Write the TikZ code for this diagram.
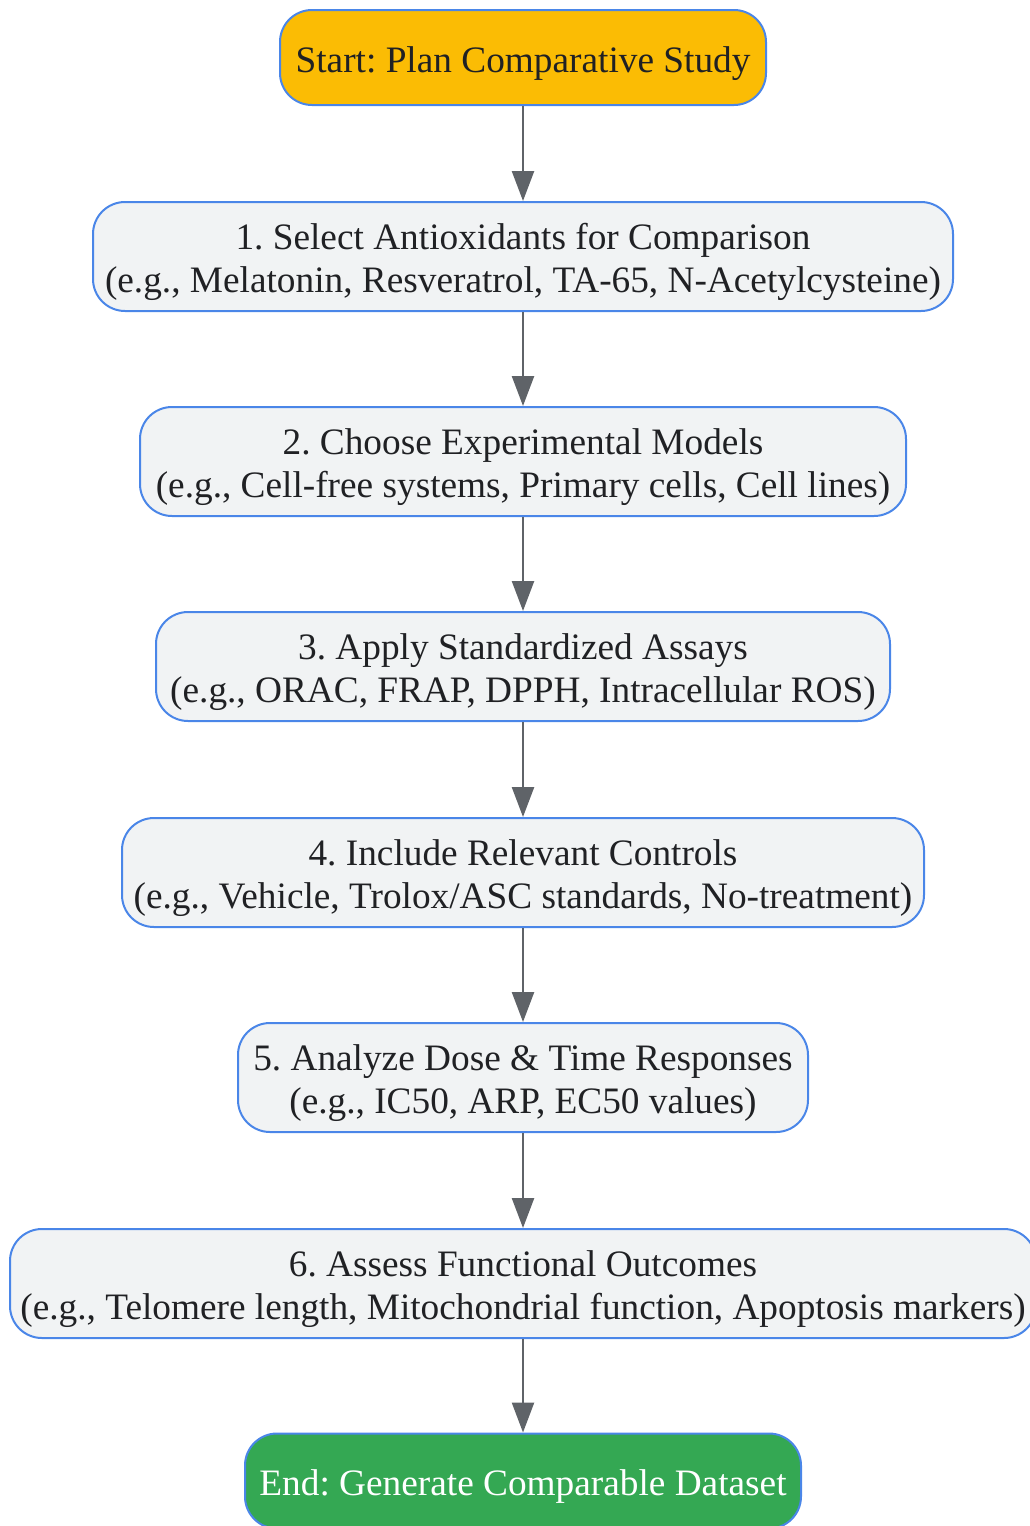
\documentclass[tikz,border=0pt]{standalone}
\usepackage{fontspec}
\setmainfont{Liberation Serif}
\usetikzlibrary{arrows.meta}
\definecolor{bordblue}{HTML}{4A86E8}
\definecolor{boxgray}{HTML}{F1F3F4}
\definecolor{startyel}{HTML}{FBBC04}
\definecolor{endgreen}{HTML}{34A853}
\definecolor{arrgray}{HTML}{5F6368}
\definecolor{txt}{HTML}{202124}
\newcommand{\lowtxt}[1]{\raisebox{-6pt}[\height][\depth]{#1}}
\newcommand{\twoline}[2]{\lowtxt{\begin{tabular}{@{}c@{}}#1\\#2\end{tabular}}}
\tikzset{
  x=1pt, y=-1pt,
  basebox/.style={draw=bordblue, line width=2pt, rounded corners=32pt, align=center,
    inner sep=0pt, text=txt, font=\fontsize{37.3}{43}\selectfont\frenchspacing},
  stepbox/.style={basebox, fill=boxgray, minimum height=109pt},
  startbox/.style={basebox, fill=startyel, minimum height=95pt},
  endbox/.style={basebox, fill=endgreen, text=white, minimum height=95pt},
  conn/.style={draw=arrgray, line width=2.5pt, -{Triangle[length=30pt,width=22pt]}}
}
\begin{document}
\begin{tikzpicture}
\useasboundingbox (0,0) rectangle (1030,1526);
\node[startbox, minimum width=486pt] (s) at (523,57.5) {\lowtxt{Start: Plan Comparative Study}};
\node[stepbox, minimum width=860pt] (a) at (523,256.5) {\twoline{1. Select Antioxidants for Comparison}{(e.g., Melatonin, Resveratrol, TA-65, N-Acetylcysteine)}};
\node[stepbox, minimum width=766pt] (b) at (523,461.5) {\twoline{2. Choose Experimental Models}{(e.g., Cell-free systems, Primary cells, Cell lines)}};
\node[stepbox, minimum width=734pt] (c) at (523,666.5) {\twoline{3. Apply Standardized Assays}{(e.g., ORAC, FRAP, DPPH, Intracellular ROS)}};
\node[stepbox, minimum width=802pt] (d) at (523,872.5) {\twoline{4. Include Relevant Controls}{(e.g., Vehicle, Trolox/ASC standards, No-treatment)}};
\node[stepbox, minimum width=570pt] (e) at (523,1077.5) {\twoline{5. Analyze Dose \& Time Responses}{(e.g., IC50, ARP, EC50 values)}};
\node[stepbox, minimum width=1026pt] (f) at (523,1283.5) {\twoline{6. Assess Functional Outcomes}{(e.g., Telomere length, Mitochondrial function, Apoptosis markers)}};
\node[endbox, minimum width=556pt] (g) at (523,1481) {\lowtxt{End: Generate Comparable Dataset}};
\draw[conn] (s) -- (a);
\draw[conn] (a) -- (b);
\draw[conn] (b) -- (c);
\draw[conn] (c) -- (d);
\draw[conn] (d) -- (e);
\draw[conn] (e) -- (f);
\draw[conn] (f) -- (g);
\end{tikzpicture}
\end{document}
